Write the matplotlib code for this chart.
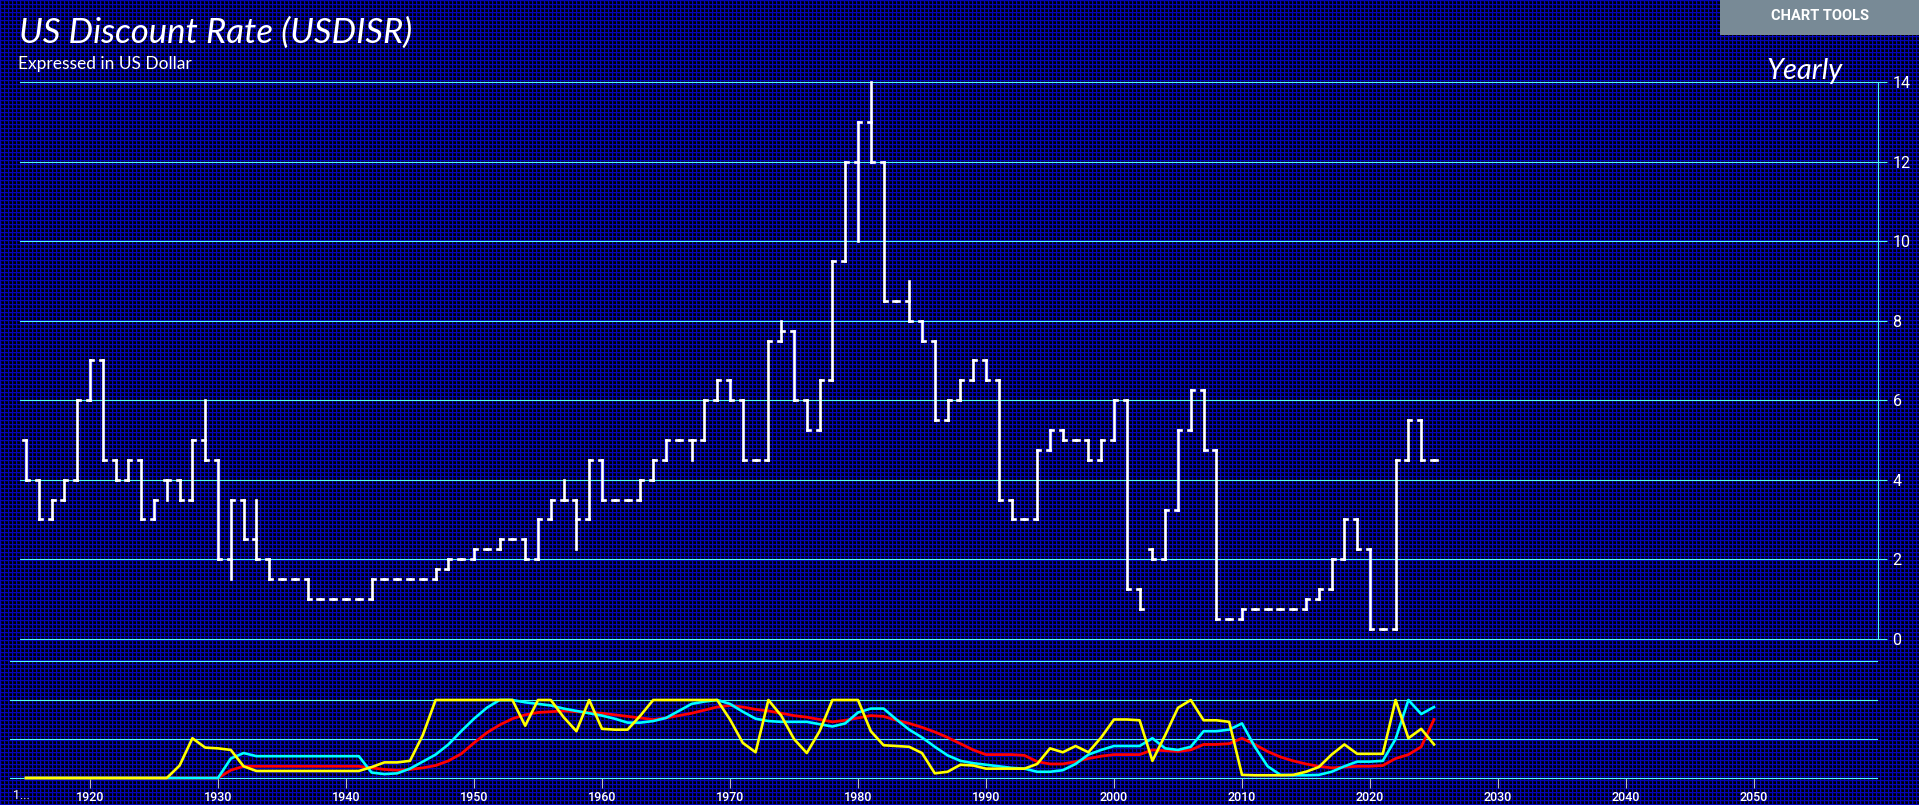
import numpy as np
import matplotlib
matplotlib.use('Agg')
import matplotlib.pyplot as plt
from matplotlib.patches import Rectangle

# --- yearly discount rate bars (open / high / low / close), 1915..2025
years = list(range(1915, 2026))

opens = [5, 4, 3, 3.5, 4, 6, 7, 4.5, 4, 4.5,
         3, 4, 4, 3.5, 5, 4.5, 2, 3.5, 2.5, 2,
         1.5, 1.5, 1.5, 1, 1, 1, 1, 1, 1.5, 1.5,
         1.5, 1.5, 1.5, 1.75, 2, 2, 2.25, 2.25, 2.5, 2.5,
         2, 3, 3.5, 3.5, 3, 4.5, 3.5, 3.5, 3.5, 4,
         4.5, 5, 5, 5, 6, 6.5, 6, 4.5, 4.5, 7.5,
         7.75, 6, 5.25, 6.5, 9.5, 12, 13, 12, 8.5, 8.5,
         8, 7.5, 5.5, 6, 6.5, 7, 6.5, 3.5, 3, 3,
         4.75, 5.25, 5, 5, 4.5, 5, 6, 1.25, 2.25, 2,
         3.25, 5.25, 6.25, 4.75, 0.5, 0.5, 0.75, 0.75, 0.75, 0.75,
         0.75, 1, 1.25, 2, 3, 2.25, 0.25, 0.25, 4.5, 5.5, 4.5]
highs = [5, 4, 3.5, 4, 6, 7, 7, 4.5, 4.5, 4.5,
         3.5, 4, 4, 5, 6, 4.5, 3.5, 3.5, 3.5, 2,
         1.5, 1.5, 1.5, 1, 1, 1, 1, 1.5, 1.5, 1.5,
         1.5, 1.5, 1.75, 2, 2, 2.25, 2.25, 2.5, 2.5, 2.5,
         3, 3.5, 4, 3.5, 4.5, 4.5, 3.5, 3.5, 4, 4.5,
         5, 5, 5, 6, 6.5, 6.5, 6, 4.5, 7.5, 8,
         7.75, 6, 6.5, 9.5, 12, 13, 14, 12, 8.5, 9,
         8, 7.5, 6, 6.5, 7, 7, 6.5, 3.5, 3, 4.75,
         5.25, 5.25, 5, 5, 5, 6, 6, 1.25, 2.25, 3.25,
         5.25, 6.25, 6.25, 4.75, 0.5, 0.75, 0.75, 0.75, 0.75, 0.75,
         1, 1.25, 2, 3, 3, 2.25, 0.25, 4.5, 5.5, 5.5, 4.5]
lows = [4, 3, 3, 3.5, 4, 6, 4.5, 4, 4, 3,
        3, 3.5, 3.5, 3.5, 4.5, 2, 1.5, 2.5, 2, 1.5,
        1.5, 1.5, 1, 1, 1, 1, 1, 1, 1.5, 1.5,
        1.5, 1.5, 1.5, 1.75, 2, 2, 2.25, 2.25, 2.5, 2,
        2, 3, 3.5, 2.25, 3, 3.5, 3.5, 3.5, 3.5, 4,
        4.5, 5, 4.5, 5, 6, 6, 4.5, 4.5, 4.5, 7.5,
        6, 5.25, 5.25, 6.5, 9.5, 10, 12, 8.5, 8.5, 8,
        7.5, 5.5, 5.5, 6, 6.5, 6.5, 3.5, 3, 3, 3,
        4.75, 5, 5, 4.5, 4.5, 5, 1.25, 0.75, 2, 2,
        3.25, 5.25, 4.75, 0.5, 0.5, 0.5, 0.75, 0.75, 0.75, 0.75,
        0.75, 1, 1.25, 2, 2.25, 0.25, 0.25, 0.25, 4.5, 4.5, 4.5]
closes = [4, 3, 3.5, 4, 6, 7, 4.5, 4, 4.5, 3,
          3.5, 4, 3.5, 5, 4.5, 2, 3.5, 2.5, 2, 1.5,
          1.5, 1.5, 1, 1, 1, 1, 1, 1.5, 1.5, 1.5,
          1.5, 1.5, 1.75, 2, 2, 2.25, 2.25, 2.5, 2.5, 2,
          3, 3.5, 3.5, 3, 4.5, 3.5, 3.5, 3.5, 4, 4.5,
          5, 5, 5, 6, 6.5, 6, 4.5, 4.5, 7.5, 7.75,
          6, 5.25, 6.5, 9.5, 12, 13, 12, 8.5, 8.5, 8,
          7.5, 5.5, 6, 6.5, 7, 6.5, 3.5, 3, 3, 4.75,
          5.25, 5, 5, 4.5, 5, 6, 1.25, 0.75, 2, 3.25,
          5.25, 6.25, 4.75, 0.5, 0.5, 0.75, 0.75, 0.75, 0.75, 0.75,
          1, 1.25, 2, 3, 2.25, 0.25, 0.25, 4.5, 5.5, 4.5, 4.5]

# --- lower panel oscillators (0..100), 1915..2025
osc_yellow = [0, 0, 0, 0, 0, 0, 0, 0, 0, 0,
              0, 0, 16, 51, 39, 38, 36, 15, 9, 9,
              9, 9, 9, 9, 9, 9, 9, 14, 20, 20,
              22, 55, 100, 100, 100, 100, 100, 100, 100, 67,
              100, 100, 78, 60, 100, 63, 62, 62, 80, 100,
              100, 100, 100, 100, 100, 75, 45, 33, 100, 80,
              50, 32, 60, 100, 100, 100, 60, 42, 41, 40,
              32, 6, 8, 17, 16, 12, 12, 12, 12, 18,
              38, 33, 41, 33, 52, 75, 75, 74, 22, 55,
              90, 100, 74, 74, 72, 4, 3.5, 3.5, 3.5, 4,
              8, 14, 30, 43, 31, 31, 31, 100, 51, 63, 43]
osc_cyan = [0, 0, 0, 0, 0, 0, 0, 0, 0, 0,
            0, 0, 0, 0, 0, 0, 25, 32, 28, 28,
            28, 28, 28, 28, 28, 28, 28, 7, 5, 6,
            12, 21, 30, 43, 60, 76, 90, 100, 100, 97,
            95, 93, 89, 86, 83, 80, 76, 71, 71, 73,
            77, 86, 95, 98, 100, 95, 85, 76, 73, 72,
            72, 72, 69, 66, 70, 84, 89, 89, 75, 62,
            52, 40, 29, 22, 19, 17, 15, 13, 12, 8,
            8, 10, 18, 30, 36, 41, 41, 41, 51, 38,
            36, 40, 60, 60, 62, 70, 40, 15, 4, 3.5,
            3.5, 4, 8, 15, 21, 21, 22, 50, 100, 82, 91]
osc_red = [0, 0, 0, 0, 0, 0, 0, 0, 0, 0,
           0, 0, 0, 0, 0, 0, 10, 15, 15, 15,
           15, 15, 15, 15, 15, 15, 15, 13, 11, 10,
           11, 13, 16, 22, 31, 45, 58, 68, 76, 81,
           84, 85, 86, 85, 84, 83, 81, 79, 77, 75,
           77, 80, 83, 87, 91, 93, 91, 88, 86, 83,
           80, 78, 75, 72, 74, 77, 80, 79, 74, 70,
           65, 59, 52, 44, 36, 30, 30, 30, 29, 21,
           18, 18, 21, 25, 28, 30, 30, 30, 36, 35,
           34, 36, 43, 43, 44, 51, 43, 34, 27, 22,
           18, 15, 13, 14, 15, 15, 16, 25, 30, 40, 75]

decades = list(range(1920, 2060, 10))
rate_ticks = [0, 2, 4, 6, 8, 10, 12, 14]

W, H = 1919, 805
cyan = '#50f8f8'
white = '#ffffff'

fig = plt.figure(figsize=(W / 100, H / 100), dpi=100)

# blue grid-paper background
pat = np.array([1.0, 0.3, 0.0, 0.0])
m = np.maximum(pat[np.arange(H) % 4][:, None], pat[np.arange(W) % 4][None, :])
bg = np.zeros((H, W, 3))
bg[..., 0] = 4 / 255 * m
bg[..., 1] = 4 / 255 * m
bg[..., 2] = 185 / 255 * m
fig.figimage(bg, xo=0, yo=0, zorder=-10)


def px(x, y):
    return x / W, 1 - y / H


def year_at(x):
    return 1920 + (x - 90) / 12.8


# main panel
ax = fig.add_axes([20 / W, (H - 638.8) / H, (1877.7 - 20) / W, (638.8 - 82) / H])
ax.patch.set_alpha(0)
ax.set_xlim(year_at(20), year_at(1877.7))
ax.set_ylim(0, 14)

w = 0.23
lc = ax.vlines(years, lows, highs, color=white, lw=1.9)
lo = ax.hlines(opens, np.array(years) - w, years, color=white, lw=1.9)
lcl = ax.hlines(closes, years, np.array(years) + w, color=white, lw=1.9)
for c in (lc, lo, lcl):
    c.set_capstyle('projecting')
    c.set_clip_on(False)

ax.yaxis.tick_right()
ax.set_yticks(rate_ticks)
ax.set_xticks([])
ax.tick_params(axis='y', length=6.7, width=0.8, color=cyan, labelcolor=white,
               labelsize=11.5, pad=4)
for t in ax.get_yticklabels():
    t.set_fontfamily('Roboto')
ax.yaxis.grid(True, color=cyan, lw=0.8)
for gl in ax.get_ygridlines():
    gl.set_clip_on(False)
for s in ['top', 'left', 'bottom']:
    ax.spines[s].set_visible(False)
ax.spines['right'].set_color(cyan)
ax.spines['right'].set_linewidth(0.8)
ax.spines['right'].set_bounds(0, 14)
ax.set_axisbelow(True)

# lower oscillator panel
ax2 = fig.add_axes([10 / W, (H - 778) / H, (1877 - 10) / W, (778 - 661) / H])
ax2.patch.set_alpha(0)
ax2.set_xlim(year_at(10), year_at(1877))
ax2.set_ylim(0, 150)
ax2.plot(years, osc_red, color='#ff0000', lw=2.0, clip_on=False, solid_joinstyle='round')
ax2.plot(years, osc_cyan, color='#00ffff', lw=1.9, clip_on=False, solid_joinstyle='round')
ax2.plot(years, osc_yellow, color='#ffff00', lw=1.9, clip_on=False, solid_joinstyle='round')
ax2.set_yticks([0, 50, 100, 150])
ax2.yaxis.grid(True, color=cyan, lw=0.8)
for gl in ax2.get_ygridlines():
    gl.set_clip_on(False)
ax2.tick_params(axis='y', length=0, labelleft=False)
ax2.set_xticks(decades)
ax2.tick_params(axis='x', length=7, width=0.8, color='#bbbbbb', labelcolor=white,
                labelsize=9, pad=2)
for t in ax2.get_xticklabels():
    t.set_fontfamily('Roboto')
    t.set_fontweight('medium')
for s in ax2.spines.values():
    s.set_visible(False)
ax2.set_axisbelow(True)
ax2.text(year_at(21), -0.095, '1...', transform=ax2.get_xaxis_transform(),
         ha='center', va='top', color=white, fontsize=9, family='Roboto')

# titles
fig.text(*px(19, 43), 'US Discount Rate (USDISR)', color=white, fontsize=25,
         family='Lato', style='italic', ha='left', va='baseline')
fig.text(*px(18, 68.5), 'Expressed in US Dollar', color=white, fontsize=12.5,
         family='Lato', ha='left', va='baseline')
fig.text(*px(1843, 79.5), 'Yearly', color=white, fontsize=21,
         family='Lato', style='italic', ha='right', va='baseline')

# chart tools button
fig.add_artist(Rectangle(px(1720, 35), 199 / W, 35 / H, transform=fig.transFigure,
                         facecolor='#788a96', edgecolor='none'))
fig.text(*px(1820, 16), 'CHART TOOLS', color=white,
         fontsize=10.5, family='Roboto', weight='bold', ha='center', va='center')

fig.savefig('out.png', dpi=100)
